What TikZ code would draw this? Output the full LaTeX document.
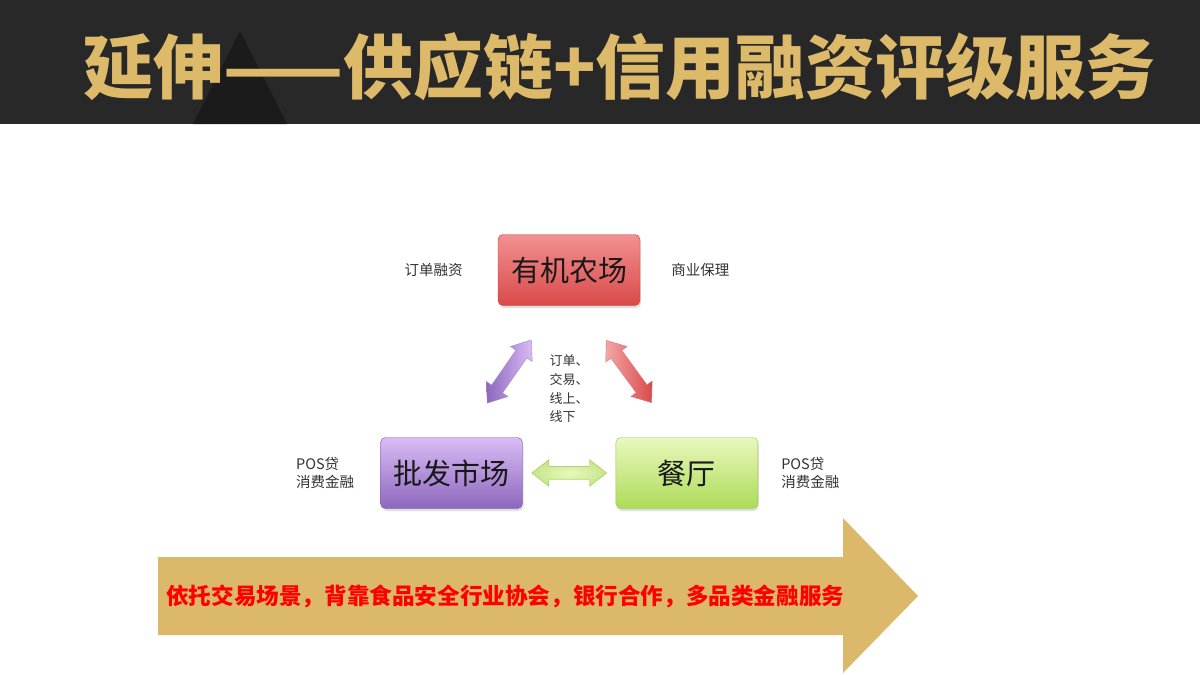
\documentclass[tikz,border=0pt]{standalone}
\usepackage{fontspec}
\setmainfont{Noto Sans CJK SC}
\usepackage{xcolor}
\usetikzlibrary{shapes.arrows, positioning, shadows}

\definecolor{headbg}{HTML}{282828}
\definecolor{headtri}{HTML}{1B1B1B}
\definecolor{titlegold}{HTML}{DDB96A}
\definecolor{bannergold}{HTML}{DCB86A}
\definecolor{farmtop}{HTML}{F29090}
\definecolor{farmbot}{HTML}{D94A4A}
\definecolor{farmline}{HTML}{C04444}
\definecolor{markettop}{HTML}{D9BCF5}
\definecolor{marketbot}{HTML}{8D67BD}
\definecolor{marketline}{HTML}{7A56A8}
\definecolor{resttop}{HTML}{E9F8BC}
\definecolor{restbot}{HTML}{ADDB58}
\definecolor{restline}{HTML}{98C450}

\begin{document}
\begin{tikzpicture}[
        x=1pt, y=-1pt,
        node distance=40pt and 30pt,
        box/.style={rectangle, rounded corners=5pt, minimum width=142pt, minimum height=71pt, inner sep=0pt,
            font=\fontsize{29}{34}\selectfont, text=black!90,
            drop shadow={opacity=0.25, shadow xshift=1pt, shadow yshift=-2.5pt}},
        note/.style={font=\fontsize{14.5}{18}\selectfont, align=left, inner sep=0pt, text=black!80},
        link/.style={double arrow, sloped, minimum height=77pt, inner xsep=0pt, inner ysep=6.5pt,
            double arrow head extend=6.5pt, double arrow tip angle=75}
    ]
        % Background and header
        \useasboundingbox (0,0) rectangle (1200,675);
        \fill[white] (0,0) rectangle (1200,675);
        \fill[headbg] (0,0) rectangle (1200,124);
        \fill[headtri] (240,31) -- (287,124) -- (193,124) -- cycle;
        \node[anchor=west, inner sep=0pt, text=titlegold, font=\fontsize{70}{78}\selectfont\bfseries] (title) at (83,67) {延伸——供应链+信用融资评级服务};

        % Nodes
        \node[box, top color=farmtop, bottom color=farmbot, draw=farmline] (farm) at (569,270) {有机农场};
        \node[box, top color=markettop, bottom color=marketbot, draw=marketline] (market) at (451.5,473) {批发市场};
        \node[box, right=93pt of market, top color=resttop, bottom color=restbot, draw=restline] (restaurant) {餐厅};

        \node[note, left=35pt of farm] (orderfin) {订单融资};
        \node[note, right=31pt of farm] (factoring) {商业保理};
        \node[note, left=26pt of market] (posleft) {POS贷\\消费金融};
        \node[note, right=23pt of restaurant] (posright) {POS贷\\消费金融};
        \node[note, below=49pt of farm, font=\fontsize{13}{18.7}\selectfont] (channels) {订单、\\交易、\\线上、\\线下};

        % Arrows
        \path ([xshift=-14pt]farm.south) -- node[link, left color=marketbot, right color=markettop, draw=marketline!70] {} ([xshift=12pt]market.north);
        \path ([xshift=12pt]farm.south) -- node[link, left color=farmtop!80, right color=farmbot, draw=farmline!70] {} ([xshift=-10pt]restaurant.north);
        \path (market) -- node[link, minimum height=75pt, inner color=resttop, outer color=restbot!70, draw=restline] {} (restaurant);

        % Banner
        \fill[bannergold] (158,557) -- (843,557) -- (843,518) -- (918,596) -- (843,673) -- (843,635) -- (158,635) -- cycle;
        \node[anchor=west, inner sep=0pt, text=red, font=\fontsize{22.6}{26}\selectfont\bfseries] (slogan) at (166,596) {依托交易场景，背靠食品安全行业协会，银行合作，多品类金融服务};
    \end{tikzpicture}
\end{document}
